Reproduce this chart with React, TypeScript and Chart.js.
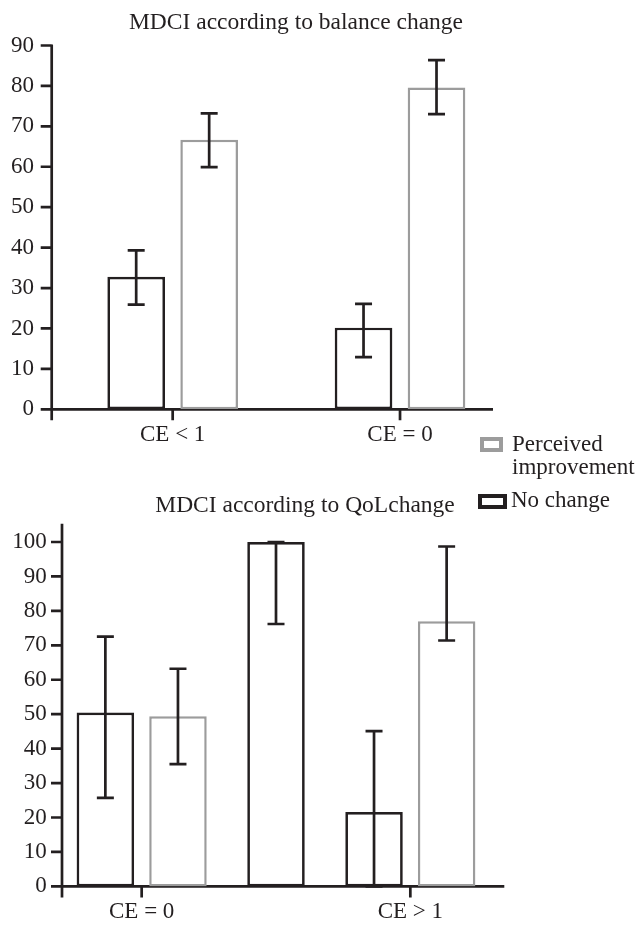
import React, { useEffect, useRef } from "react";
import { Chart, registerables } from "chart.js";

Chart.register(...registerables);

// ---------- data ----------
const topTitle = "MDCI according to balance change";
const topCategories = ["CE < 1", "CE = 0"];
const topNoChange = [32.8, 20.2];
const topNoChangeLow = [25.9, 12.9];
const topNoChangeHigh = [39.3, 26.1];
const topPerceived = [66.7, 79.6];
const topPerceivedLow = [59.9, 73.0];
const topPerceivedHigh = [73.2, 86.4];
const topYMax = 90;

const bottomTitle = "MDCI according to QoLchange";
const bottomCategories = ["CE = 0", "", "CE > 1"];
const bottomNoChange = [50.5, 100, 21.6];
const bottomNoChangeLow = [25.7, 76.2, 0];
const bottomNoChangeHigh = [72.5, 100, 45.1];
const bottomPerceived = [49.4, null, 77.0];
const bottomPerceivedLow = [35.5, null, 71.4];
const bottomPerceivedHigh = [63.2, null, 98.7];
const bottomYMax = 105;

const yStep = 10;
const seriesNames = ["No change", "Perceived improvement"];

// ---------- styles ----------
const INK = "#231f20";
const GRAY = "#9c9c9c";
const FONT = '"Liberation Serif", "Times New Roman", serif';

const axesPlugin = {
  id: "customAxes",
  beforeDatasetsDraw(chart: any, _args: any, opts: any) {
    const { ctx, chartArea, scales } = chart;
    const x = scales.x;
    const y = scales.y;
    const ax = chartArea.left - opts.yGap;
    const y0 = y.getPixelForValue(0);
    ctx.save();
    ctx.strokeStyle = INK;
    ctx.lineWidth = 2.7;
    ctx.beginPath();
    ctx.moveTo(ax, chartArea.top - 1);
    ctx.lineTo(ax, y0 + opts.tickLen);
    ctx.moveTo(ax, y0);
    ctx.lineTo(chartArea.right + opts.xExtend, y0);
    y.ticks.forEach((t: any) => {
      const py = y.getPixelForValue(t.value);
      ctx.moveTo(ax - opts.tickLen, py);
      ctx.lineTo(ax, py);
    });
    x.ticks.forEach((t: any) => {
      const lbl = x.getLabelForValue(t.value);
      if (!lbl) return;
      const px = x.getPixelForValue(t.value);
      ctx.moveTo(px, y0);
      ctx.lineTo(px, y0 + opts.tickLen);
    });
    ctx.stroke();
    ctx.restore();
  },
  afterDatasetsDraw(chart: any) {
    const { ctx, scales } = chart;
    const y = scales.y;
    ctx.save();
    ctx.strokeStyle = INK;
    ctx.lineWidth = 2.7;
    chart.data.datasets.forEach((ds: any, i: number) => {
      const meta = chart.getDatasetMeta(i);
      meta.data.forEach((bar: any, j: number) => {
        const lo = ds.errLow[j];
        const hi = ds.errHigh[j];
        if (lo == null || hi == null || ds.data[j] == null) return;
        const px = bar.x;
        const pLo = y.getPixelForValue(lo);
        const pHi = y.getPixelForValue(hi);
        const cap = 8.5;
        ctx.beginPath();
        ctx.moveTo(px, pHi);
        ctx.lineTo(px, pLo);
        ctx.moveTo(px - cap, pHi);
        ctx.lineTo(px + cap, pHi);
        ctx.moveTo(px - cap, pLo);
        ctx.lineTo(px + cap, pLo);
        ctx.stroke();
      });
    });
    ctx.restore();
  },
  afterDraw(chart: any, _args: any, opts: any) {
    const { ctx } = chart;
    ctx.save();
    ctx.fillStyle = INK;
    ctx.font = `23.5px ${FONT}`;
    ctx.textAlign = "center";
    ctx.textBaseline = "alphabetic";
    ctx.fillText(opts.title, opts.titleX, opts.titleBaseline);
    ctx.restore();
  },
};

function makeConfig(p: any) {
  return {
    type: "bar",
    data: {
      labels: p.labels,
      datasets: [
        {
          label: seriesNames[0],
          data: p.noChange,
          errLow: p.noChangeLow,
          errHigh: p.noChangeHigh,
          backgroundColor: "#ffffff",
          borderColor: INK,
          borderWidth: 2.7,
          borderSkipped: false,
        },
        {
          label: seriesNames[1],
          data: p.perceived,
          errLow: p.perceivedLow,
          errHigh: p.perceivedHigh,
          backgroundColor: "#ffffff",
          borderColor: GRAY,
          borderWidth: 2.5,
          borderSkipped: false,
        },
      ],
    },
    options: {
      responsive: false,
      animation: false,
      events: [],
      layout: { padding: { top: p.padTop, right: p.padRight, left: 0, bottom: 0 } },
      datasets: {
        bar: {
          categoryPercentage: p.catPct,
          barPercentage: p.barPct,
          maxBarThickness: p.maxBar,
          skipNull: true,
        },
      },
      scales: {
        x: {
          type: "category",
          offset: true,
          grid: { display: false, drawTicks: false },
          border: { display: false },
          ticks: {
            padding: p.xPad,
            color: INK,
            autoSkip: false,
            maxRotation: 0,
            font: { family: FONT, size: 23 },
          },
          afterFit: (s: any) => {
            s.height = p.xHeight;
          },
        },
        y: {
          type: "linear",
          min: 0,
          max: p.yMax,
          grid: { display: false, drawTicks: false },
          border: { display: false },
          ticks: {
            stepSize: yStep,
            includeBounds: false,
            padding: p.yPad,
            color: INK,
            font: { family: FONT, size: 23 },
          },
          afterFit: (s: any) => {
            s.width = p.yWidth;
          },
        },
      },
      plugins: {
        legend: { display: false },
        tooltip: { enabled: false },
        title: { display: false },
        customAxes: {
          yGap: p.yGap,
          tickLen: 11,
          xExtend: p.xExtend,
          title: p.title,
          titleX: p.titleX,
          titleBaseline: p.titleBaseline,
        },
      },
    },
    plugins: [axesPlugin],
  };
}

export default function App() {
  const topRef = useRef<HTMLCanvasElement | null>(null);
  const botRef = useRef<HTMLCanvasElement | null>(null);

  useEffect(() => {
    const top = new Chart(
      topRef.current as HTMLCanvasElement,
      makeConfig({
        labels: topCategories,
        noChange: topNoChange,
        noChangeLow: topNoChangeLow,
        noChangeHigh: topNoChangeHigh,
        perceived: topPerceived,
        perceivedLow: topPerceivedLow,
        perceivedHigh: topPerceivedHigh,
        yMax: topYMax,
        padTop: 45.5,
        padRight: 124.3,
        catPct: 0.642,
        barPct: 0.79,
        maxBar: 57.7,
        xPad: 12,
        xHeight: 40.7,
        yPad: 25,
        yWidth: 59,
        yGap: 7.3,
        xExtend: -20.7,
        title: topTitle,
        titleX: 296,
        titleBaseline: 29.3,
      }) as any
    );
    const bottom = new Chart(
      botRef.current as HTMLCanvasElement,
      makeConfig({
        labels: bottomCategories,
        noChange: bottomNoChange,
        noChangeLow: bottomNoChangeLow,
        noChangeHigh: bottomNoChangeHigh,
        perceived: bottomPerceived,
        perceivedLow: bottomPerceivedLow,
        perceivedHigh: bottomPerceivedHigh,
        yMax: bottomYMax,
        padTop: 54.8,
        padRight: 160.5,
        catPct: 1.081,
        barPct: 0.792,
        maxBar: 57.5,
        xPad: 11.4,
        xHeight: 35.7,
        yPad: 27.8,
        yWidth: 74.5,
        yGap: 12.5,
        xExtend: 26.8,
        title: bottomTitle,
        titleX: 305,
        titleBaseline: 41.7,
      }) as any
    );
    return () => {
      top.destroy();
      bottom.destroy();
    };
  }, []);

  const textStyle: React.CSSProperties = {
    position: "absolute",
    fontFamily: FONT,
    fontSize: 23,
    lineHeight: "23px",
    color: INK,
    whiteSpace: "nowrap",
  };

  return (
    <div
      style={{
        position: "absolute",
        left: 0,
        top: 0,
        width: 638,
        height: 928,
        background: "#ffffff",
        overflow: "hidden",
      }}
    >
      <canvas
        ref={topRef}
        width={638}
        height={450}
        style={{ position: "absolute", left: 0, top: 0, width: 638, height: 450 }}
      />
      <canvas
        ref={botRef}
        width={638}
        height={458}
        style={{ position: "absolute", left: 0, top: 470, width: 638, height: 458 }}
      />
      <div
        style={{
          position: "absolute",
          left: 480,
          top: 436.7,
          width: 22.7,
          height: 15,
          boxSizing: "border-box",
          border: `4px solid ${GRAY}`,
          background: "#fff",
        }}
      />
      <div style={{ ...textStyle, left: 512, top: 431.8 }}>
        {seriesNames[1].split(" ")[0]}
        <br />
        {seriesNames[1].split(" ")[1]}
      </div>
      <div
        style={{
          position: "absolute",
          left: 478.3,
          top: 494,
          width: 28.4,
          height: 15.3,
          boxSizing: "border-box",
          border: `4.5px solid ${INK}`,
          background: "#fff",
        }}
      />
      <div style={{ ...textStyle, left: 511, top: 487.8 }}>{seriesNames[0]}</div>
    </div>
  );
}
